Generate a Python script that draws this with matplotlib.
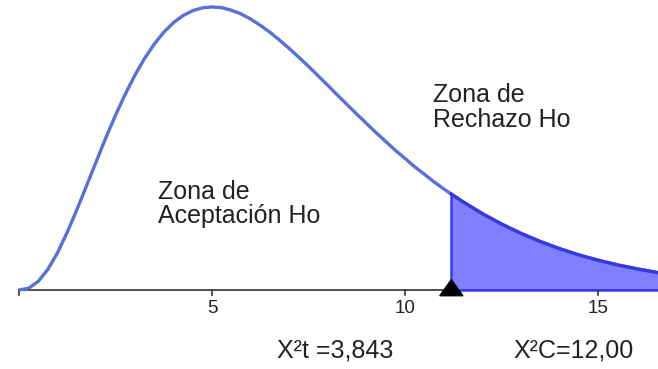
import matplotlib.pyplot as plt
from matplotlib.patches import Polygon

# curve (density vs chi-square value)
x_vals = [0, 0.25, 0.5, 0.75, 1, 1.25, 1.5, 1.75, 2, 2.25, 2.5, 2.75, 3, 3.25,
          3.5, 3.75, 4, 4.25, 4.5, 4.75, 5, 5.25, 5.5, 5.75, 6, 6.25, 6.5,
          6.75, 7, 7.25, 7.5, 7.75, 8, 8.25, 8.5, 8.75, 9, 9.25, 9.5, 9.75,
          10, 10.25, 10.5, 10.75, 11, 11.2, 11.5, 12, 12.5, 13, 13.5, 14,
          14.5, 15, 15.5, 16, 16.6]
y_vals = [0, 0.0007, 0.0037, 0.0089, 0.0161, 0.0249, 0.0346, 0.0449, 0.0553,
          0.0656, 0.0753, 0.0843, 0.0925, 0.0997, 0.1059, 0.1111, 0.1152,
          0.1183, 0.1204, 0.1216, 0.1220, 0.1217, 0.1206, 0.1190, 0.1168,
          0.1141, 0.1111, 0.1077, 0.1041, 0.1003, 0.0964, 0.0923, 0.0882,
          0.0840, 0.0799, 0.0758, 0.0718, 0.0678, 0.0640, 0.0602, 0.0567,
          0.0531, 0.0499, 0.0466, 0.0436, 0.0413, 0.0380, 0.0329, 0.0284,
          0.0244, 0.0209, 0.0178, 0.0151, 0.0128, 0.0108, 0.0091, 0.0073]
critical = 11.2
tick_pos = [0, 5, 10, 15]
tick_labels = ["", "5", "10", "15"]

FONT = "Liberation Sans"
TXT = "#222222"

fig = plt.figure(figsize=(6.58, 3.69), dpi=100)
ax = fig.add_axes([0, 0, 1, 1])
ax.set_xlim(-0.492, 16.554)
ax.set_ylim(-0.0341, 0.1250)

# shaded rejection region
tail_x = [x for x in x_vals if x >= critical]
tail_y = [y for x, y in zip(x_vals, y_vals) if x >= critical]
ax.fill_between(tail_x, 0, tail_y, color="#8080ff", lw=0, zorder=1)
ax.plot([critical, critical], [0, tail_y[0]], color="#3a3aff", lw=1.8, zorder=2)
ax.plot([critical, 16.6], [0, 0], color="#3a3aff", lw=1.8, zorder=2)

ax.plot(x_vals, y_vals, color="#5b6fd8", lw=2.4, zorder=3,
        solid_capstyle="butt", solid_joinstyle="round")
ax.plot(tail_x, tail_y, color="#3838e0", lw=2.4, zorder=4,
        solid_joinstyle="round")

# x axis
ax.plot([0, 16.6], [0, 0], color="#333333", lw=1.2, zorder=1.5)
for t in tick_pos:
    ax.plot([t, t], [0, -0.0022], color="#333333", lw=1.2)
for t, lab in zip(tick_pos, tick_labels):
    ax.text(t, -0.0078, lab, ha="center", va="center", fontsize=13.5,
            family=FONT, color=TXT)

# critical marker
tri = Polygon([[critical - 0.3, -0.0025], [critical + 0.3, -0.0025],
               [critical, 0.0044]], closed=True, color="black", zorder=5)
ax.add_patch(tri)

ax.text(3.60, 0.0392, "Zona de", fontsize=18, family=FONT, color=TXT,
        va="baseline")
ax.text(3.60, 0.0289, "Aceptación Ho", fontsize=18, family=FONT, color=TXT,
        va="baseline")
ax.text(10.73, 0.0810, "Zona de", fontsize=18, family=FONT, color=TXT,
        va="baseline")
ax.text(10.73, 0.0703, "Rechazo Ho", fontsize=18, family=FONT, color=TXT,
        va="baseline")

ax.text(6.68, -0.0293, "X²t =3,843", fontsize=18, family=FONT, color=TXT,
        va="baseline")
ax.text(12.80, -0.0293, "X²C=12,00", fontsize=18, family=FONT, color=TXT,
        va="baseline")

ax.axis("off")
fig.savefig("out.png", dpi=100)
